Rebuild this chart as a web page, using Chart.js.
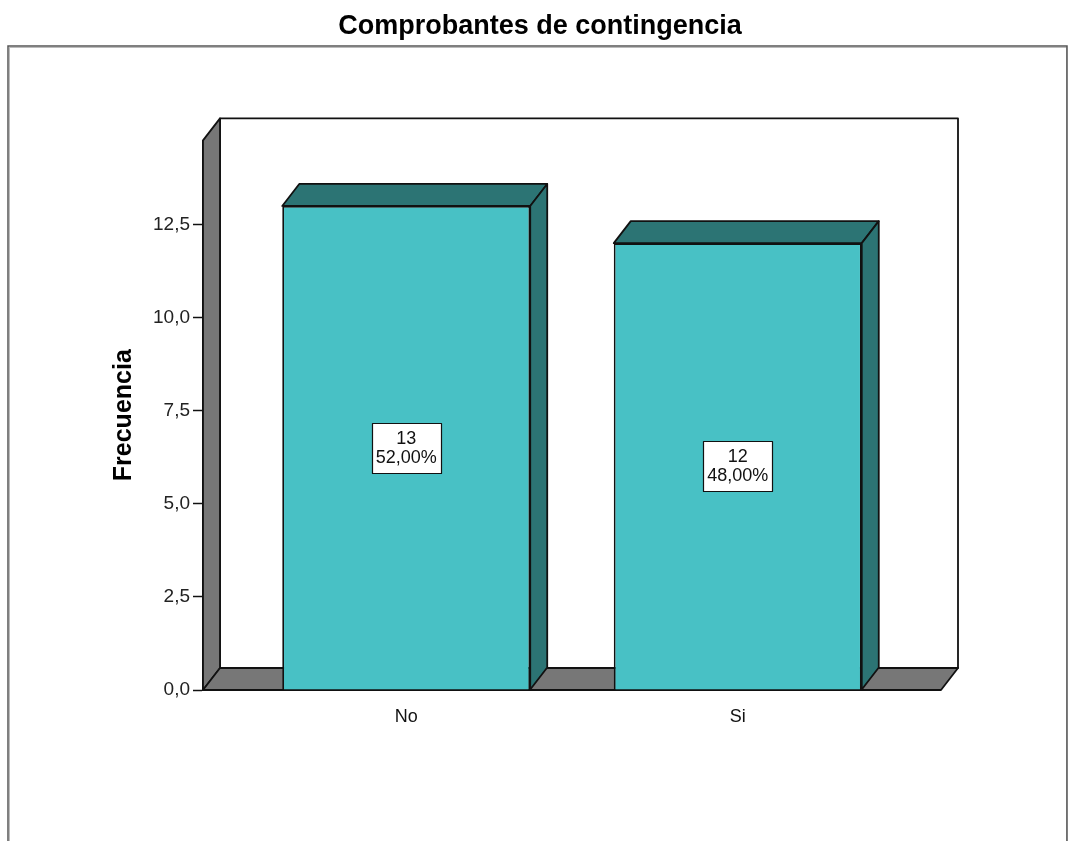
<!DOCTYPE html>
<html>
<head>
<meta charset="utf-8">
<script src="https://cdn.jsdelivr.net/npm/chart.js@4.4.0/dist/chart.umd.min.js"></script>
<style>
  html, body { margin: 0; padding: 0; background: #fff; }
  #wrap { width: 1070px; height: 841px; }
</style>
</head>
<body>
<div id="wrap"><canvas id="chart" width="1070" height="841"></canvas></div>
<script>
// --- DATA ---
const categories = ['No', 'Si'];
const counts = [13, 12];
const yTicks = [0, 2.5, 5, 7.5, 10, 12.5];
const yMax = 14.76;

const FONT = "'Liberation Sans', Arial, sans-serif";
const FRONT = '#48C1C5';
const DARK = '#2C7474';
const WALL = '#777777';
const LINE = '#111111';
const DX = 17, DY = 22; // 3D depth offset

const total = counts.reduce((s, v) => s + v, 0);
const pct = v => (v / total * 100).toFixed(2).replace('.', ',') + '%';

function poly(ctx, pts, fill) {
    ctx.beginPath();
    pts.forEach((p, i) => i ? ctx.lineTo(p[0], p[1]) : ctx.moveTo(p[0], p[1]));
    ctx.closePath();
    ctx.fillStyle = fill;
    ctx.fill();
    ctx.stroke();
}

// --- 3D walls, bar faces, value boxes ---
const depthPlugin = {
    id: 'depth3d',
    beforeDraw(chart) {
        const ctx = chart.ctx;
        ctx.save();
        ctx.strokeStyle = '#bbbbbb';
        ctx.lineWidth = 1;
        ctx.strokeRect(9.5, 47.5, 1057, 900);
        ctx.strokeStyle = '#555555';
        ctx.lineWidth = 1.5;
        ctx.strokeRect(8, 46, 1059, 900);
        ctx.restore();
    },
    beforeDatasetsDraw(chart) {
        const { ctx, chartArea: a } = chart;
        ctx.save();
        ctx.lineWidth = 1.8;
        ctx.strokeStyle = LINE;
        ctx.lineJoin = 'round';
        // back wall
        ctx.fillStyle = '#fff';
        ctx.beginPath();
        ctx.rect(a.left + DX, a.top - DY, a.right - a.left, a.bottom - a.top);
        ctx.fill();
        ctx.stroke();
        // left wall
        poly(ctx, [[a.left, a.top], [a.left + DX, a.top - DY], [a.left + DX, a.bottom - DY], [a.left, a.bottom]], WALL);
        // floor
        poly(ctx, [[a.left, a.bottom], [a.left + DX, a.bottom - DY], [a.right + DX, a.bottom - DY], [a.right, a.bottom]], WALL);
        ctx.restore();
    },
    afterDatasetsDraw(chart) {
        const ctx = chart.ctx;
        const meta = chart.getDatasetMeta(0);
        ctx.save();
        ctx.strokeStyle = LINE;
        ctx.lineJoin = 'round';
        meta.data.forEach((el, i) => {
            const { x, y, base, width } = el.getProps(['x', 'y', 'base', 'width'], true);
            const x1 = x - width / 2, x2 = x + width / 2;
            ctx.lineWidth = 1.8;
            poly(ctx, [[x1, y], [x1 + DX, y - DY], [x2 + DX, y - DY], [x2, y]], DARK);
            poly(ctx, [[x2, y], [x2 + DX, y - DY], [x2 + DX, base - DY], [x2, base]], DARK);

            // value box
            const lines = [String(counts[i]), pct(counts[i])];
            ctx.font = '18px ' + FONT;
            const tw = Math.max(...lines.map(t => ctx.measureText(t).width));
            const bw = tw + 8, bh = 50;
            const cx = x, cy = (y + base) / 2;
            ctx.fillStyle = '#fff';
            ctx.lineWidth = 1.2;
            ctx.beginPath();
            ctx.rect(Math.round(cx - bw / 2) + 0.5, Math.round(cy - bh / 2) + 0.5, Math.round(bw), bh);
            ctx.fill();
            ctx.stroke();
            ctx.fillStyle = '#111';
            ctx.textAlign = 'center';
            ctx.textBaseline = 'middle';
            ctx.fillText(lines[0], cx, cy - 9);
            ctx.fillText(lines[1], cx, cy + 10);
        });
        ctx.restore();
    }
};

new Chart(document.getElementById('chart'), {
    type: 'bar',
    data: {
        datasets: [{
            data: categories.map((c, i) => ({ x: i, y: counts[i] })),
            backgroundColor: FRONT,
            borderColor: LINE,
            borderWidth: 1.8,
            barPercentage: 0.748,
            categoryPercentage: 1
        }]
    },
    options: {
        responsive: false,
        animation: false,
        layout: { padding: { left: 139, right: 129, top: 0, bottom: 0 } },
        scales: {
            x: {
                type: 'linear',
                offset: false,
                min: -0.613, max: 1.613,
                afterBuildTicks: s => { s.ticks = categories.map((c, i) => ({ value: i })); },
                afterFit: s => { s.height = 151; },
                grid: { display: false, drawTicks: false, offset: false },
                border: { display: false },
                ticks: {
                    padding: 16,
                    color: '#111',
                    font: { size: 18, family: FONT },
                    callback: v => categories[v] ?? ''
                }
            },
            y: {
                min: 0, max: yMax,
                afterBuildTicks: s => { s.ticks = yTicks.map(v => ({ value: v })); },
                afterFit: s => { s.width = 64; },
                grid: { drawOnChartArea: false, drawTicks: true, tickLength: 10, tickColor: LINE, tickWidth: 1.5 },
                border: { display: true, color: LINE, width: 1.8 },
                ticks: {
                    padding: 3,
                    color: '#222',
                    font: { size: 19, family: FONT },
                    callback: v => v.toFixed(1).replace('.', ',')
                },
                title: {
                    display: true,
                    text: 'Frecuencia',
                    color: '#000',
                    font: { size: 25, weight: 'bold', family: FONT },
                    padding: { top: -30, bottom: 0 }
                }
            }
        },
        plugins: {
            legend: { display: false },
            tooltip: { enabled: false },
            title: {
                display: true,
                text: 'Comprobantes de contingencia',
                color: '#000',
                font: { size: 27, weight: 'bold', family: FONT },
                padding: { top: 10, bottom: 98 }
            }
        }
    },
    plugins: [depthPlugin]
});
</script>
</body>
</html>
